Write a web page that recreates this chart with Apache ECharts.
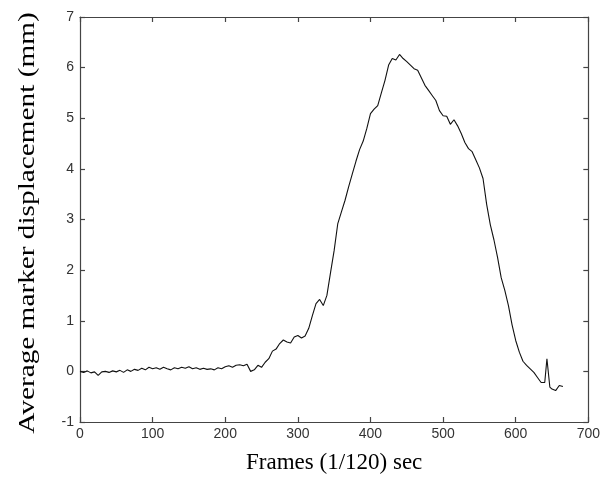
<!DOCTYPE html>
<html>
<head>
<meta charset="utf-8">
<script src="https://cdn.jsdelivr.net/npm/echarts@6/dist/echarts.min.js"></script>
<style>
html,body{margin:0;padding:0;background:#fff;}
#chart{width:603px;height:490px;}
</style>
</head>
<body>
<div id="chart"></div>
<script>
const frames = [0,5,10,15,20,25,30,35,40,45,50,55,60,65,70,75,80,85,90,95,100,105,110,115,120,125,130,135,140,145,150,155,160,165,170,175,180,185,190,195,200,205,210,215,220,225,230,235,240,245,250,255,260,265,270,275,280,285,290,295,300,305,310,315,320,325,330,335,340,345,350,355,360,365,370,375,380,385,390,395,400,405,410,415,420,425,430,435,440,445,450,455,460,465,470,475,480,485,490,495,500,505,510,515,520,525,530,535,540,545,550,555,560,565,570,575,580,585,590,595,600,605,610,615,620,625,630,635,640,643,645,647,650,655,660,665];
const displacement = [0.00,-0.02,0.01,-0.03,-0.01,-0.08,-0.01,0.00,-0.02,0.01,-0.01,0.02,-0.02,0.03,0.00,0.04,0.02,0.06,0.03,0.08,0.05,0.07,0.04,0.08,0.05,0.03,0.07,0.05,0.08,0.06,0.09,0.05,0.07,0.04,0.06,0.04,0.05,0.03,0.07,0.05,0.09,0.11,0.08,0.12,0.13,0.11,0.14,0.00,0.03,0.12,0.08,0.18,0.25,0.40,0.44,0.55,0.62,0.58,0.56,0.68,0.71,0.66,0.70,0.85,1.10,1.34,1.42,1.30,1.50,1.95,2.39,2.92,3.15,3.38,3.65,3.90,4.15,4.38,4.55,4.80,5.09,5.18,5.25,5.50,5.75,6.05,6.18,6.15,6.26,6.18,6.12,6.05,5.98,5.95,5.80,5.65,5.55,5.45,5.35,5.15,5.05,5.04,4.88,4.97,4.85,4.70,4.52,4.40,4.34,4.18,4.02,3.81,3.30,2.90,2.60,2.25,1.85,1.60,1.30,0.92,0.61,0.38,0.20,0.12,0.05,-0.02,-0.12,-0.22,-0.22,0.25,0.23,-0.31,-0.35,-0.38,-0.28,-0.30];
const xTicks = [0,100,200,300,400,500,600,700];
const yTicks = [-1,0,1,2,3,4,5,6,7];
const xTitle = 'Frames (1/120) sec';
const yTitle = 'Average marker displacement (mm)';

const chart = echarts.init(document.getElementById('chart'));
const axisLineStyle = {color:'#444', width:1.2};
const labelStyle = {color:'#333', fontFamily:'Liberation Sans Narrow, Arial Narrow, Liberation Sans, sans-serif', fontSize:14};
function frameAxis(pos, showLabel, extra){
  return Object.assign({
    type:'value', min:xTicks[0], max:xTicks[xTicks.length-1], interval:xTicks[1]-xTicks[0],
    position:pos,
    axisLine:{show:true, onZero:false, lineStyle:axisLineStyle},
    axisTick:{show:true, inside:true, length:5, lineStyle:axisLineStyle},
    axisLabel:showLabel ? Object.assign({margin:5}, labelStyle) : {show:false},
    splitLine:{show:false}
  }, extra||{});
}
function valAxis(pos, showLabel){
  return {
    type:'value', min:yTicks[0], max:yTicks[yTicks.length-1], interval:yTicks[1]-yTicks[0],
    position:pos,
    axisLine:{show:true, onZero:false, lineStyle:axisLineStyle},
    axisTick:{show:true, inside:true, length:5, lineStyle:axisLineStyle},
    axisLabel:showLabel ? Object.assign({margin:6}, labelStyle) : {show:false},
    splitLine:{show:false}
  };
}
chart.setOption({
  animation:false,
  grid:{left:80, right:10, top:17, bottom:68, containLabel:false},
  xAxis:[
    frameAxis('bottom', true, {
      name:xTitle, nameLocation:'middle', nameGap:29,
      nameTextStyle:{fontFamily:'Liberation Serif, Times New Roman, serif', fontSize:23, color:'#000'}
    }),
    frameAxis('top', false)
  ],
  yAxis:[valAxis('left', true), valAxis('right', false)],
  graphic:[{
    type:'text', x:28, y:223, rotation:Math.PI/2, scaleX:1.22, scaleY:1,
    style:{text:yTitle, font:'24px "Liberation Serif", "Times New Roman", serif', fill:'#000', align:'center', verticalAlign:'middle'}
  }],
  series:[{
    type:'line',
    data:frames.map((f,i)=>[f, displacement[i]]),
    showSymbol:false,
    lineStyle:{color:'#111', width:1.1},
    xAxisIndex:0, yAxisIndex:0
  }]
});
</script>
</body>
</html>
